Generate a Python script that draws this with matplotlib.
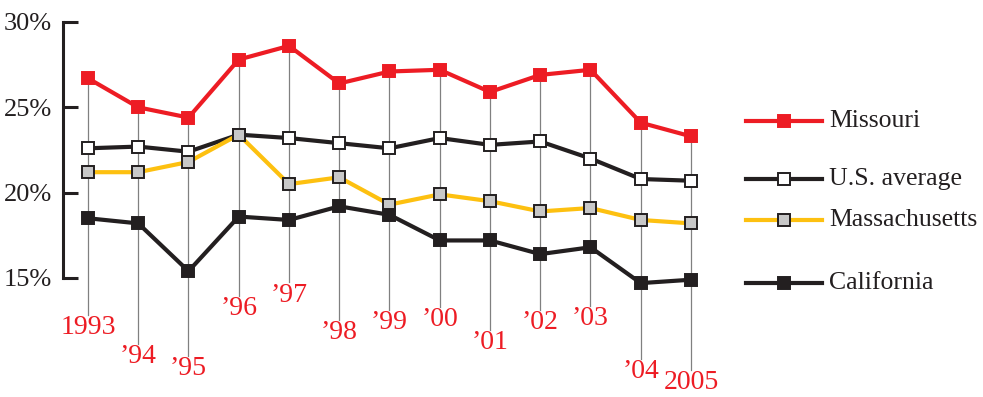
import numpy as np
import matplotlib.pyplot as plt
from matplotlib.lines import Line2D

# data (percent)
years = [1993, 1994, 1995, 1996, 1997, 1998, 1999, 2000, 2001, 2002, 2003, 2004, 2005]
year_labels = ["1993", "\u201994", "\u201995", "\u201996", "\u201997", "\u201998", "\u201999",
               "\u201900", "\u201901", "\u201902", "\u201903", "\u201904", "2005"]
missouri = [26.7, 25.0, 24.4, 27.8, 28.6, 26.4, 27.1, 27.2, 25.9, 26.9, 27.2, 24.1, 23.3]
us_average = [22.6, 22.7, 22.4, 23.4, 23.2, 22.9, 22.6, 23.2, 22.8, 23.0, 22.0, 20.8, 20.7]
massachusetts = [21.2, 21.2, 21.8, 23.4, 20.5, 20.9, 19.3, 19.9, 19.5, 18.9, 19.1, 18.4, 18.2]
california = [18.5, 18.2, 15.4, 18.6, 18.4, 19.2, 18.7, 17.2, 17.2, 16.4, 16.8, 14.7, 14.9]
yticks = [15, 20, 25, 30]

# where the staggered year labels sit (data units, below the axis)
label_y = [12.1, 10.4, 9.7, 13.2, 14.0, 11.8, 12.4, 12.55, 11.2, 12.4, 12.6, 9.5, 8.85]

RED = "#ED1C24"
YEL = "#FDC010"
BLK = "#231F20"
GRY = "#C8C8C8"

plt.rcParams["font.family"] = ["Liberation Serif", "DejaVu Serif"]

W, H = 983, 397
fig = plt.figure(figsize=(W / 100, H / 100), dpi=100)
ax = fig.add_axes([63 / W, (H - 278) / H, (700 - 63) / W, (278 - 22) / H])
ax.set_xlim(1993 - 25 / 50.25, 2005 + 9 / 50.25)
ax.set_ylim(15, 30)

for s in ["top", "right", "bottom"]:
    ax.spines[s].set_visible(False)
ax.spines["left"].set_linewidth(2.2)
ax.spines["left"].set_color(BLK)
ax.set_xticks([])
ax.set_yticks(yticks)
ax.set_yticklabels([f"{t}%" for t in yticks])
ax.tick_params(axis="y", direction="in", length=11, width=2.2, color=BLK,
               pad=8, labelsize=19, labelcolor=BLK)

# drop lines from the top series down to the year labels
for x, top, ly, lab in zip(years, missouri, label_y, year_labels):
    ax.plot([x, x], [top, ly + 0.75], color="#808080", lw=0.9, zorder=1, clip_on=False)
    ax.text(x, ly, lab, color=RED, fontsize=20, ha="center", va="center", clip_on=False)

series = [
    (missouri, RED, RED, RED),
    (us_average, BLK, "white", BLK),
    (massachusetts, YEL, GRY, BLK),
    (california, BLK, BLK, BLK),
]
for vals, c, mfc, mec in series:
    ax.plot(years, vals, color=c, lw=3, marker="s", ms=8.5, mfc=mfc, mec=mec,
            mew=1.4, zorder=3, clip_on=False)

# hand-placed legend on the right
names = ["Missouri", "U.S. average", "Massachusetts", "California"]
leg_y = [121, 179, 220, 283]
for (vals, c, mfc, mec), name, py in zip(series, names, leg_y):
    yf = (H - py) / H
    fig.add_artist(Line2D([746 / W, 822 / W], [yf, yf], color=c, lw=3,
                          transform=fig.transFigure))
    fig.add_artist(Line2D([784 / W], [yf], marker="s", ms=8, mfc=mfc, mec=mec, mew=1.4,
                          transform=fig.transFigure))
    fig.text(829 / W, yf, name, fontsize=18.5, color=BLK, ha="left", va="center")

fig.savefig("out.png", dpi=100)
